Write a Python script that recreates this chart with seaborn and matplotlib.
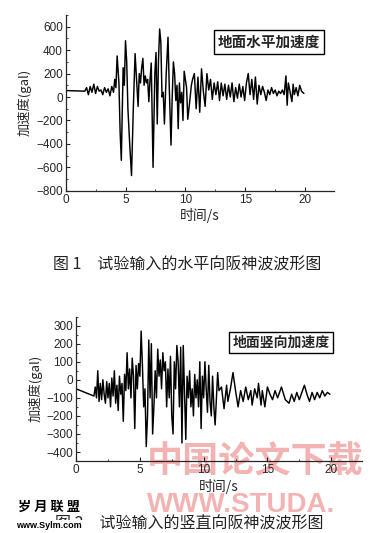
import pandas as pd
import matplotlib.pyplot as plt
import seaborn as sns
from matplotlib.ticker import MultipleLocator

# --- 数据---
h_time = [0, 1.6, 1.75, 1.9, 2.05, 2.2, 2.35, 2.5, 2.65, 2.8, 2.95, 3.1, 3.25, 3.4, 3.55, 3.7, 3.85, 4.0,
          4.1, 4.2, 4.3, 4.45, 4.55, 4.65, 4.8, 4.9, 5.0, 5.1, 5.2, 5.35, 5.5, 5.65, 5.8, 5.95, 6.05, 6.15,
          6.25, 6.35, 6.45, 6.55, 6.65, 6.75, 6.85, 6.95, 7.05, 7.15, 7.3, 7.45, 7.55, 7.65, 7.75, 7.85,
          7.95, 8.05, 8.15, 8.25, 8.4, 8.55, 8.65, 8.8, 8.9, 9.0, 9.1, 9.2, 9.3, 9.4, 9.5, 9.6, 9.7, 9.8,
          9.9, 10.0, 10.1, 10.2, 10.35, 10.5, 10.6, 10.75, 10.9, 11.05, 11.2, 11.35, 11.5, 11.65, 11.8,
          11.95, 12.1, 12.25, 12.4, 12.55, 12.7, 12.85, 13.0, 13.15, 13.3, 13.45, 13.6, 13.75, 13.9, 14.05,
          14.2, 14.35, 14.5, 14.65, 14.8, 14.95, 15.1, 15.25, 15.4, 15.55, 15.7, 15.85, 16.0, 16.15, 16.3,
          16.45, 16.6, 16.75, 16.9, 17.05, 17.2, 17.35, 17.5, 17.65, 17.8, 17.95, 18.1, 18.25, 18.4, 18.5,
          18.6, 18.75, 18.9, 19.0, 19.1, 19.25, 19.4, 19.55, 19.7, 19.9]
h_acc = [55, 50, 80, 20, 90, 40, 110, 30, 90, 50, 60, 20, 80, 40, 70, 10, 90, 40,
         150, 80, 350, 120, -300, -540, 250, 100, 480, 300, -100, -400, -670, -100, 370, 100, -80, 200,
         120, 250, 330, 100, 180, 120, 150, -40, 150, 290, -600, 200, 380, -230, 300, 580,
         470, 0, 40, -230, 200, 510, 100, -410, 0, 300, 200, -30, 100, -270, 120, -50, 40, -200,
         220, 150, 80, -190, -50, 100, 150, 200, -100, 170, -130, 240, 50, -80, 200,
         60, 150, -20, 120, 20, 130, -30, 120, 10, 110, -20, 100, 0, 120, -40,
         80, -10, 110, 0, 90, -30, 120, 200, 20, 150, -20, 170, -60, 100, 20,
         90, 40, -30, 60, 20, 80, 30, 60, 10, 50, 30, 60, 20, 180, -70,
         120, 40, -40, 110, 20, 80, 10, 100, 50, 30]

v_time = [0, 1.4, 1.5, 1.6, 1.7, 1.8, 1.9, 2.0, 2.1, 2.2, 2.3, 2.4, 2.5, 2.6, 2.7, 2.8, 2.9, 3.0,
          3.1, 3.2, 3.3, 3.4, 3.5, 3.6, 3.7, 3.8, 3.9, 4.0, 4.1, 4.2, 4.3, 4.4, 4.5, 4.6, 4.7, 4.8,
          4.9, 5.0, 5.1, 5.2, 5.3, 5.4, 5.5, 5.6, 5.7, 5.8, 5.9, 6.0, 6.1, 6.2, 6.3, 6.4, 6.5, 6.6,
          6.7, 6.8, 6.9, 7.0, 7.1, 7.2, 7.3, 7.4, 7.5, 7.6, 7.7, 7.8, 7.9, 8.0, 8.1, 8.2, 8.3, 8.4,
          8.5, 8.6, 8.7, 8.8, 8.9, 9.0, 9.1, 9.2, 9.3, 9.4, 9.5, 9.6, 9.7, 9.8, 9.9, 10.0, 10.1, 10.2,
          10.3, 10.4, 10.5, 10.6, 10.7, 10.8, 10.9, 11.0, 11.1, 11.2, 11.4, 11.6, 11.8, 11.9, 12.1,
          12.3, 12.5, 12.7, 12.9, 13.1, 13.3, 13.5, 13.7, 13.8, 14.0, 14.2, 14.3, 14.5, 14.6, 14.8,
          15.0, 15.2, 15.4, 15.6, 15.8, 16.1, 16.4, 16.7, 16.9, 17.1, 17.3, 17.5, 17.7, 17.9, 18.1,
          18.3, 18.5, 18.7, 18.9, 19.1, 19.3, 19.5, 19.7, 19.9]
v_acc = [-50, -90, -40, -100, 50, -120, -20, -110, 0, -80, -130, -10, -100, -20, -150, 10, -90, 50,
         -130, -30, -170, 20, -80, -20, -230, 30, -60, 150, -50, 60, -100, 120, 20, -270, 80, -50,
         90, 20, 270, 80, -150, -50, -370, -200, 220, -100, 200, -300, -150, 50, -100, 170, 20, 110,
         -50, 150, 50, 100, -150, 60, -100, 130, -200, -300, 100, -50, 190, 100, -150, 180, -350, 190,
         -80, -330, 20, -100, 50, -150, -50, -200, 30, -100, 0, -150, 100, -270, 20, -100, 100, -50,
         -180, 80, -120, -200, 20, -150, -250, -100, 40, -60, -40, -160, -30, -120, -50,
         40, -60, -150, -60, -120, -40, -110, -60, -140, -50, -100, -20, -140, -60, -150,
         -40, -80, -110, -60, -100, -40, -110, -130, -80, -120, -70, -110, -70, -30, -80,
         -120, -70, -110, -70, -100, -60, -90, -70, -80]

df_h = pd.DataFrame({"t": h_time, "a": h_acc})
df_v = pd.DataFrame({"t": v_time, "a": v_acc})

# --- 样式 ---
sns.set_style("ticks")
plt.rcParams['font.family'] = ['Liberation Sans', 'Noto Sans CJK SC', 'DejaVu Sans']
cjk = ['Noto Sans CJK SC', 'DejaVu Sans']

fig = plt.figure(figsize=(3.73, 5.33), dpi=100, facecolor='white')
ax1 = fig.add_axes([0.176, 0.642, 0.719, 0.330])
ax2 = fig.add_axes([0.204, 0.135, 0.766, 0.271])

# --- 水印（放在坐标轴下面）---
fig.text(0.685, 0.133, "中国论文下载", ha='center', va='center', fontsize=26,
         fontweight='bold', family=cjk, color='#f4b3b3', zorder=0)
fig.text(0.395, 0.053, "WWW.STUDA.", ha='left', va='center', fontsize=20,
         fontweight='bold', color='#f4b3b3', zorder=0)
ax2.set_zorder(1)
ax2.patch.set_alpha(0)


def style_axis(ax, ylim, ymajor, label_box, box_xy, box_fs):
    ax.set_xlim(0, 22.4)
    ax.set_ylim(*ylim)
    ax.xaxis.set_major_locator(MultipleLocator(5))
    ax.xaxis.set_minor_locator(MultipleLocator(2.5))
    ax.yaxis.set_major_locator(MultipleLocator(ymajor))
    ax.yaxis.set_minor_locator(MultipleLocator(ymajor / 2))
    ax.tick_params(which='major', direction='in', length=3, width=0.8, labelsize=8.5, pad=2)
    ax.tick_params(which='minor', direction='in', length=1.5, width=0.6)
    for s in ['top', 'right']:
        ax.spines[s].set_visible(False)
    for s in ['left', 'bottom']:
        ax.spines[s].set_linewidth(0.9)
    ax.set_xlabel("时间/s", fontsize=10, family=cjk, labelpad=2)
    ax.set_ylabel("加速度(gal)", fontsize=9.5, family=cjk, labelpad=3)
    ax.text(box_xy[0], box_xy[1], label_box, transform=ax.transAxes, fontsize=box_fs,
            fontweight='bold', family=cjk, ha='center', va='center',
            bbox=dict(boxstyle='square,pad=0.25', facecolor='white', edgecolor='black', linewidth=1))


sns.lineplot(data=df_h, x="t", y="a", ax=ax1, color='black', linewidth=1.05)
style_axis(ax1, (-800, 700), 200, "地面水平加速度", (0.758, 0.846), 10.5)

sns.lineplot(data=df_v, x="t", y="a", ax=ax2, color='black', linewidth=1.05)
style_axis(ax2, (-450, 350), 100, "地面竖向加速度", (0.718, 0.821), 10)

# --- 图题 ---
fig.text(0.503, 0.503, "图 1　试验输入的水平向阪神波波形图", ha='center', va='center',
         fontsize=11.5, family=cjk, color='#222222')
fig.text(0.508, 0.016, "图 2　试验输入的竖直向阪神波波形图", ha='center', va='center',
         fontsize=11.5, family=cjk, color='#222222')

fig.text(0.132, 0.049, "岁 月 联 盟", ha='center', va='center', fontsize=9.5,
         fontweight='bold', family=cjk, color='black')
fig.text(0.132, 0.015, "www.Sylm.com", ha='center', va='center', fontsize=6.5,
         fontweight='bold', color='black',
         bbox=dict(boxstyle='square,pad=0.1', facecolor='white', edgecolor='none'))

plt.savefig("out.png", dpi=100, facecolor='white')
plt.close()
